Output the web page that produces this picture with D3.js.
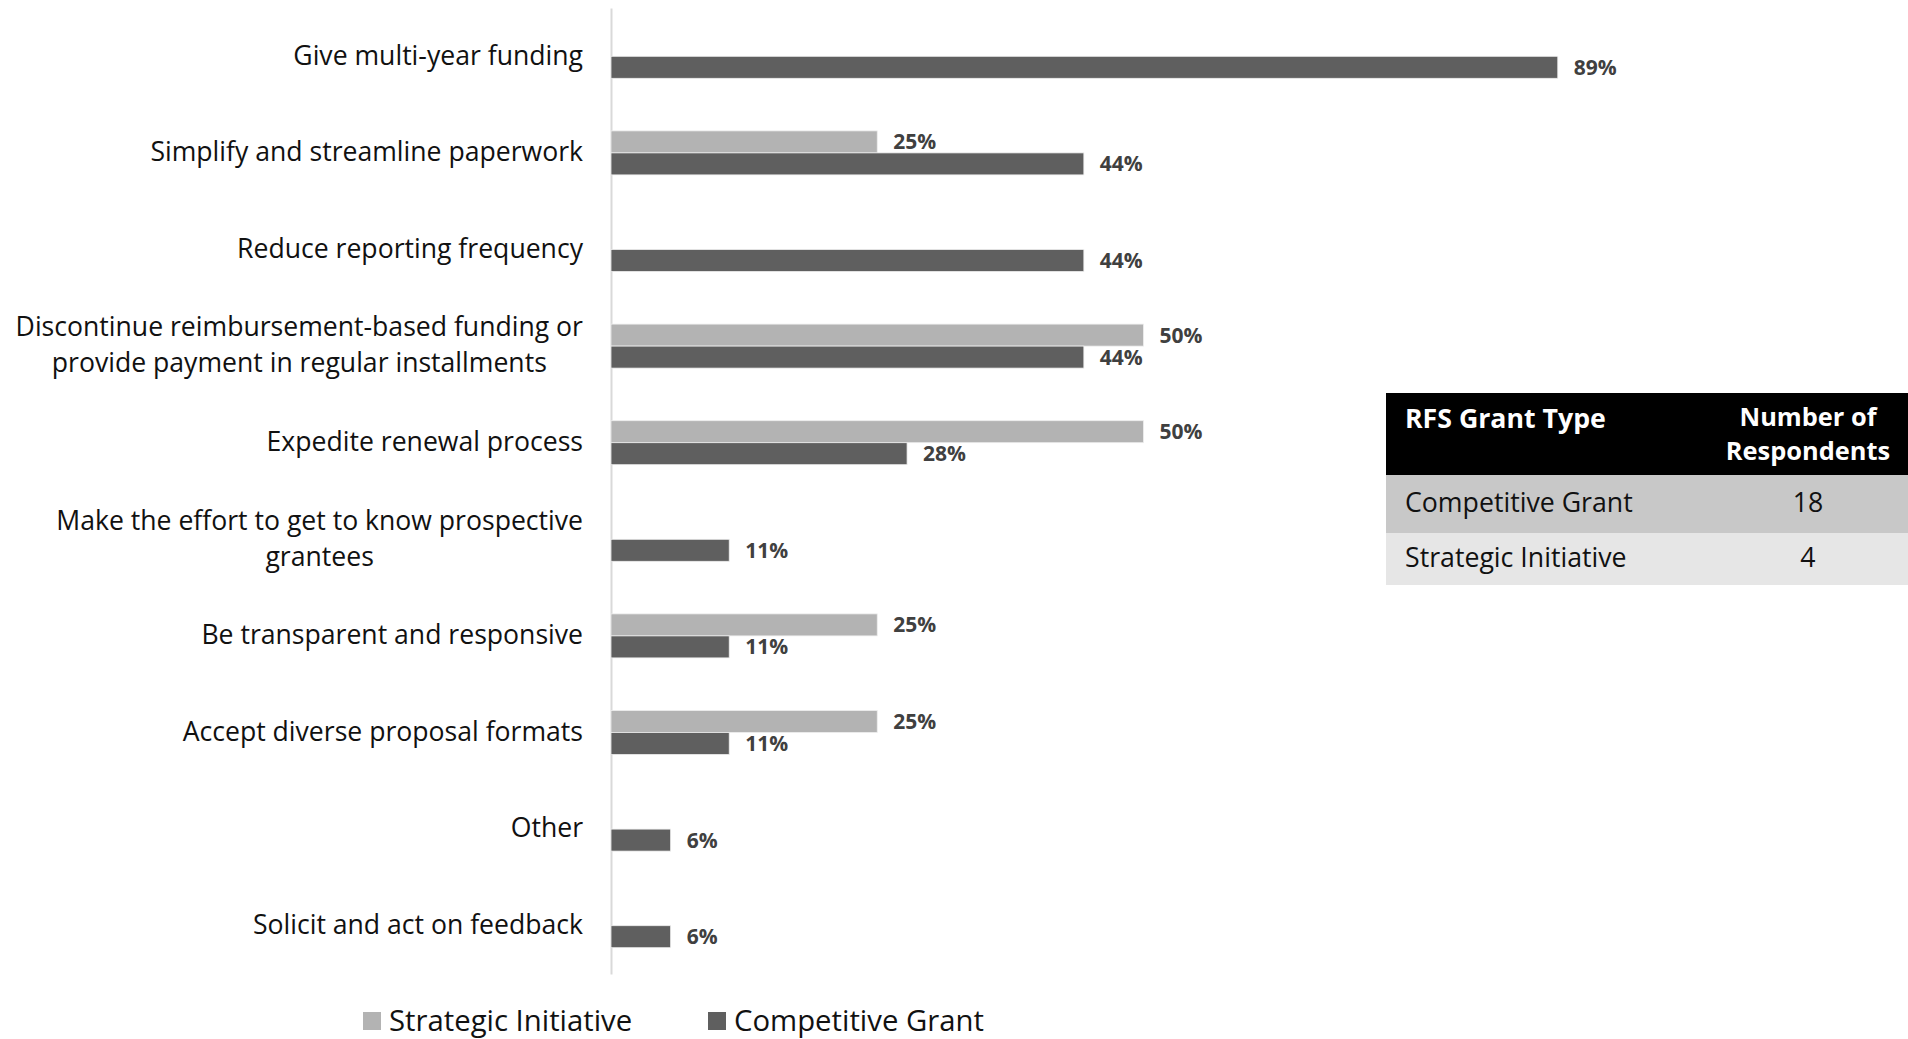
<!DOCTYPE html>
<html><head><meta charset="utf-8">
<script src="https://cdn.jsdelivr.net/npm/d3@7"></script>
<style>
html,body{margin:0;padding:0;background:#fff;}
svg{display:block;font-family:"Open Sans",sans-serif;}
</style></head>
<body><svg id="chart" width="1908" height="1039"></svg>
<script>
const categories = [
  ["Give multi-year funding"],
  ["Simplify and streamline paperwork"],
  ["Reduce reporting frequency"],
  ["Discontinue reimbursement-based funding or", "provide payment in regular installments"],
  ["Expedite renewal process"],
  ["Make the effort to get to know prospective", "grantees"],
  ["Be transparent and responsive"],
  ["Accept diverse proposal formats"],
  ["Other"],
  ["Solicit and act on feedback"]
];
const seriesNames = ["Strategic Initiative", "Competitive Grant"];
const strategicValues = [null, 25, null, 50, 50, null, 25, 25, null, null];
const competitiveValues = [88.9, 44.4, 44.4, 44.4, 27.8, 11.1, 11.1, 11.1, 5.6, 5.6];
const tableHeader = ["RFS Grant Type", "Number of|Respondents"];
const tableTypes = ["Competitive Grant", "Strategic Initiative"];
const tableCounts = [18, 4];

const colors = {"Strategic Initiative": "#b3b3b3", "Competitive Grant": "#5f5f5f"};
const svg = d3.select("#chart");
const keys = categories.map((c, i) => i);

const x = d3.scaleLinear().domain([0, 100]).range([611, 1676]);
const y0 = d3.scaleBand().domain(keys).range([8, 974]).padding(0);
const bandH = 22;
const y1 = d3.scaleBand().domain(seriesNames).range([-bandH, bandH]);

// axis line
svg.append("g").attr("transform", "translate(611,0)")
  .call(d3.axisLeft(y0).tickSize(0).tickFormat("").tickSizeOuter(0))
  .call(g => g.select(".domain").attr("stroke", "#d9d9d9").attr("stroke-width", 2));

// category labels (multi-line blocks right-aligned, lines centred within block)
const lab = svg.append("g");
const labelRight = 583;
categories.forEach((lines, i) => {
  const cy = y0(i) + y0.bandwidth() / 2;
  const lh = 36;
  const t = lab.append("text").attr("text-anchor", "middle")
    .attr("font-size", 26.6).attr("fill", "#111");
  const spans = lines.map((ln, j) => t.append("tspan")
      .attr("y", cy + (j - (lines.length - 1) / 2) * lh - 1)
      .attr("dy", "0.35em").text(ln));
  const w = d3.max(spans, s => s.node().getComputedTextLength());
  spans.forEach(s => s.attr("x", labelRight - w / 2));
});

const data = [];
keys.forEach(i => {
  if (strategicValues[i] != null) data.push({i, s: "Strategic Initiative", v: strategicValues[i]});
  if (competitiveValues[i] != null) data.push({i, s: "Competitive Grant", v: competitiveValues[i]});
});

const bars = svg.append("g");
bars.selectAll("rect").data(data).join("rect")
  .attr("x", x(0))
  .attr("y", d => y0(d.i) + y0.bandwidth() / 2 + y1(d.s))
  .attr("width", d => x(d.v) - x(0))
  .attr("height", y1.bandwidth())
  .attr("fill", d => colors[d.s])
  .attr("stroke", "#eeeeee").attr("stroke-width", 0.8);

bars.selectAll("text").data(data).join("text")
  .attr("x", d => x(d.v) + 16)
  .attr("y", d => y0(d.i) + y0.bandwidth() / 2 + y1(d.s) + y1.bandwidth() / 2)
  .attr("dy", "0.36em")
  .attr("font-size", 21).attr("font-weight", 700).attr("fill", "#404040")
  .text(d => Math.round(d.v) + "%");

// legend
const legend = svg.append("g");
const legendX = [363, 708];
seriesNames.forEach((s, k) => {
  legend.append("rect").attr("x", legendX[k]).attr("y", 1012).attr("width", 18).attr("height", 18)
    .attr("fill", colors[s]);
  legend.append("text").attr("x", legendX[k] + 26).attr("y", 1021).attr("dy", "0.35em")
    .attr("font-size", 29.3).attr("fill", "#111").text(s);
});

// table
const tbl = svg.append("g");
const tx0 = 1386, tx1 = 1908;
tbl.append("rect").attr("x", tx0).attr("y", 393).attr("width", tx1 - tx0).attr("height", 82).attr("fill", "#000");
const rowFills = ["#c8c8c8", "#e6e6e6"];
const rowY = [475, 533], rowH = [58, 52];
tbl.append("text").attr("x", 1405).attr("y", 419).attr("dy", "0.35em")
  .attr("font-size", 26.7).attr("font-weight", 700).attr("fill", "#fff").text(tableHeader[0]);
const hdr = tbl.append("text").attr("text-anchor", "middle").attr("font-size", 25.4)
  .attr("font-weight", 700).attr("fill", "#fff");
tableHeader[1].split("|").forEach((ln, j) => {
  hdr.append("tspan").attr("x", 1808).attr("y", 417 + j * 34.6).attr("dy", "0.35em").text(ln);
});
tableTypes.forEach((t, k) => {
  tbl.append("rect").attr("x", tx0).attr("y", rowY[k]).attr("width", tx1 - tx0).attr("height", rowH[k])
    .attr("fill", rowFills[k]);
  const cy = rowY[k] + rowH[k] / 2;
  tbl.append("text").attr("x", 1405).attr("y", cy - 1).attr("dy", "0.35em")
    .attr("font-size", 26.7).attr("fill", "#111").text(t);
  tbl.append("text").attr("x", 1808).attr("y", cy - 1).attr("dy", "0.35em")
    .attr("text-anchor", "middle").attr("font-size", 26.7).attr("fill", "#111").text(tableCounts[k]);
});
</script></body></html>
